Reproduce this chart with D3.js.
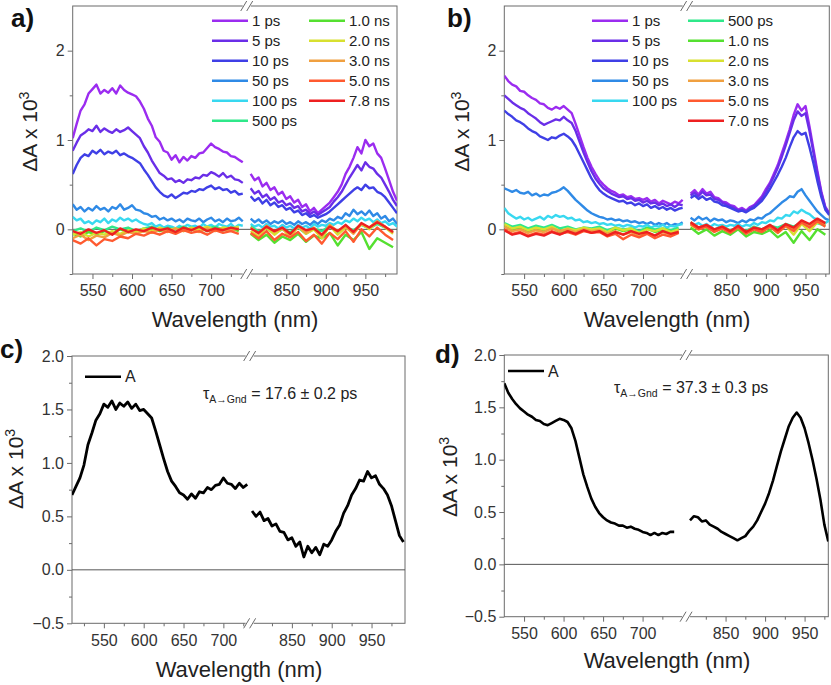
<!DOCTYPE html>
<html>
<head>
<meta charset="utf-8">
<script src="https://cdn.jsdelivr.net/npm/d3@7"></script>
<style>
body { margin: 0; background: #fff; }
text { font-family: "Liberation Sans", Arial, Helvetica, sans-serif; }
</style>
</head>
<body>
<script>
var W = 831, H = 685;

// wavelength grids (nm), visible part and NIR part of each panel
var aFineVis = d3.range(525, 741, 5), aFineNir = d3.range(805, 991, 5);
var aCoarseVis = d3.range(525, 736, 10), aCoarseNir = d3.range(805, 986, 10);
var bFineVis = d3.range(525, 751, 5), bFineNir = d3.range(805, 981, 5);
var bCoarseVis = d3.range(525, 746, 10), bCoarseNir = d3.range(805, 976, 10);
var cVis = d3.range(510, 731, 5), cNir = d3.range(800, 991, 5);
var dVis = d3.range(525, 741, 5), dNir = d3.range(805, 981, 5);

var labelsA = ["1 ps", "5 ps", "10 ps", "50 ps", "100 ps", "500 ps", "1.0 ns", "2.0 ns", "3.0 ns", "5.0 ns", "7.8 ns"];
var labelsB = ["1 ps", "5 ps", "10 ps", "50 ps", "100 ps", "500 ps", "1.0 ns", "2.0 ns", "3.0 ns", "5.0 ns", "7.0 ns"];
var colors = ["#9b2cf0", "#6a2ee8", "#3f3fe6", "#2f8ae6", "#38d8f0", "#2fe88a", "#55e030", "#d8e030", "#f0a040", "#ff5a30", "#ee2020"];

var xMajor = [550, 600, 650, 700, 850, 900, 950];

// ---- panel a, dA x 10^3 ----
var a1psVis = [1.02,1.18,1.33,1.40,1.52,1.57,1.62,1.52,1.56,1.53,1.58,1.52,1.61,1.56,1.53,1.51,1.49,1.43,1.35,1.24,1.16,1.03,0.98,0.88,0.86,0.78,0.83,0.75,0.81,0.77,0.82,0.80,0.85,0.86,0.91,0.96,0.92,0.90,0.87,0.86,0.82,0.81,0.78,0.75];
var a1psNir = [0.62,0.55,0.58,0.48,0.52,0.44,0.47,0.39,0.42,0.34,0.37,0.30,0.33,0.25,0.28,0.20,0.24,0.18,0.22,0.26,0.30,0.36,0.42,0.50,0.62,0.70,0.80,0.92,0.85,1.00,0.93,0.96,0.85,0.80,0.68,0.55,0.42,0.32];
var a5psVis = [0.88,0.97,1.05,1.08,1.12,1.10,1.16,1.09,1.13,1.10,1.08,1.12,1.09,1.11,1.14,1.10,1.06,1.02,0.93,0.86,0.77,0.70,0.63,0.60,0.56,0.57,0.53,0.55,0.52,0.56,0.55,0.58,0.57,0.61,0.60,0.64,0.62,0.59,0.63,0.58,0.60,0.56,0.55,0.52];
var a5psNir = [0.46,0.40,0.43,0.36,0.39,0.33,0.36,0.30,0.32,0.27,0.29,0.24,0.26,0.20,0.22,0.17,0.20,0.16,0.19,0.22,0.25,0.31,0.36,0.42,0.50,0.58,0.65,0.72,0.66,0.75,0.70,0.68,0.62,0.58,0.50,0.42,0.33,0.26];
var a10psVis = [0.62,0.72,0.80,0.84,0.82,0.88,0.85,0.89,0.84,0.87,0.85,0.88,0.83,0.85,0.82,0.80,0.77,0.74,0.67,0.61,0.54,0.47,0.42,0.38,0.36,0.39,0.35,0.38,0.41,0.40,0.43,0.42,0.45,0.44,0.47,0.49,0.45,0.47,0.44,0.45,0.41,0.43,0.39,0.40];
var a10psNir = [0.37,0.32,0.35,0.29,0.33,0.27,0.30,0.25,0.27,0.22,0.24,0.19,0.21,0.16,0.18,0.14,0.16,0.13,0.15,0.17,0.20,0.24,0.28,0.32,0.36,0.40,0.44,0.47,0.44,0.50,0.46,0.47,0.42,0.40,0.36,0.30,0.24,0.18];
var a50psVis = [0.28,0.22,0.25,0.20,0.24,0.21,0.26,0.22,0.24,0.20,0.25,0.23,0.28,0.22,0.24,0.27,0.22,0.21,0.18,0.17,0.14,0.15,0.11,0.13,0.10,0.12,0.09,0.11,0.08,0.12,0.10,0.09,0.12,0.08,0.11,0.13,0.09,0.11,0.08,0.12,0.09,0.10,0.13,0.09];
var a50psNir = [0.12,0.08,0.11,0.07,0.10,0.06,0.09,0.07,0.10,0.06,0.08,0.05,0.09,0.06,0.08,0.05,0.09,0.06,0.10,0.08,0.12,0.10,0.14,0.12,0.18,0.15,0.22,0.17,0.20,0.16,0.21,0.15,0.18,0.12,0.15,0.09,0.12,0.06];
var a100psVis = [0.14,0.10,0.12,0.07,0.09,0.06,0.10,0.08,0.12,0.07,0.11,0.09,0.13,0.10,0.12,0.09,0.11,0.08,0.06,0.05,0.07,0.03,0.05,0.02,0.04,0.03,0.01,0.04,0.02,0.05,0.03,0.04,0.02,0.06,0.03,0.05,0.02,0.06,0.04,0.03,0.06,0.02,0.05,0.04];
var a100psNir = [0.06,0.03,0.05,0.02,0.06,0.03,0.04,0.01,0.05,0.02,0.04,0.01,0.05,0.02,0.04,0.01,0.06,0.03,0.05,0.04,0.07,0.05,0.08,0.06,0.10,0.08,0.12,0.09,0.13,0.10,0.12,0.08,0.11,0.07,0.09,0.05,0.07,0.03];
var a500psVis = [-0.02,0.01,-0.03,0.02,-0.01,0.03,0.00,0.02,-0.02,0.01,0.03,-0.01,0.02,0.00,0.03,-0.01,0.02,0.01,0.03,0.00,0.02,0.01];
var a500psNir = [0.03,-0.02,0.01,-0.04,0.00,-0.03,0.02,-0.05,0.01,-0.02,0.04,-0.03,0.02,-0.01,0.05,0.01,0.06,0.02,-0.03];
var a1nsVis = [-0.05,-0.08,-0.03,-0.06,-0.02,-0.04,0.00,-0.03,-0.01,-0.02,0.01,-0.02,0.00,-0.03,0.01,-0.01,0.02,-0.02,0.00,-0.01,0.01,-0.02];
var a1nsNir = [-0.05,-0.12,-0.06,-0.15,-0.08,-0.12,-0.05,-0.14,-0.07,-0.10,-0.04,-0.18,-0.06,-0.12,-0.03,-0.22,-0.10,-0.15,-0.20];
var a2nsVis = [-0.06,-0.03,-0.08,-0.04,-0.06,-0.02,-0.05,-0.01,-0.03,0.01,-0.02,0.02,-0.01,0.01,-0.02,0.02,0.00,0.03,-0.01,0.02,0.01,0.03];
var a2nsNir = [-0.02,-0.08,0.02,-0.06,0.01,-0.09,0.03,-0.05,0.00,-0.10,0.04,-0.06,0.02,-0.04,0.06,0.00,0.08,0.02,-0.05];
var a3nsVis = [-0.10,-0.06,-0.12,-0.07,-0.09,-0.04,-0.07,-0.03,-0.05,-0.02,-0.04,0.00,-0.03,0.01,-0.02,0.00,-0.03,0.01,-0.02,0.00,-0.01,0.01];
var a3nsNir = [0.02,-0.05,0.04,-0.03,0.01,-0.06,0.03,-0.04,0.02,-0.08,0.05,-0.02,0.03,-0.05,0.06,0.02,0.09,0.03,-0.04];
var a5nsVis = [-0.12,-0.16,-0.10,-0.18,-0.11,-0.13,-0.08,-0.10,-0.05,-0.07,-0.03,-0.06,-0.02,-0.05,-0.01,-0.04,-0.02,-0.06,-0.01,-0.04,-0.02,-0.05];
var a5nsNir = [-0.04,-0.10,-0.02,-0.12,-0.05,-0.09,-0.03,-0.13,-0.06,-0.16,-0.04,-0.11,-0.02,-0.14,0.00,-0.08,0.02,-0.06,-0.12];
var a78nsVis = [-0.02,-0.05,0.00,-0.04,-0.01,-0.06,0.01,-0.03,0.00,-0.02,0.02,-0.01,0.01,-0.03,0.02,-0.01,0.03,-0.02,0.01,-0.01,0.02,0.00];
var a78nsNir = [0.01,-0.04,0.03,-0.02,0.02,-0.05,0.04,-0.01,0.01,-0.06,0.03,-0.02,0.05,-0.03,0.07,0.02,0.08,0.03,-0.03];

// ---- panel b ----
var b1psVis = [1.72,1.66,1.62,1.60,1.55,1.54,1.50,1.47,1.45,1.41,1.40,1.36,1.34,1.37,1.35,1.38,1.34,1.30,1.18,1.05,0.92,0.80,0.70,0.62,0.55,0.50,0.46,0.43,0.41,0.38,0.39,0.36,0.37,0.34,0.35,0.33,0.35,0.31,0.33,0.29,0.32,0.30,0.28,0.31,0.29,0.33];
var b1psNir = [0.40,0.44,0.39,0.45,0.40,0.42,0.36,0.35,0.31,0.30,0.27,0.26,0.22,0.24,0.21,0.25,0.27,0.32,0.37,0.45,0.52,0.62,0.72,0.85,0.98,1.12,1.28,1.40,1.33,1.38,1.15,0.90,0.65,0.42,0.25,0.18];
var b5psVis = [1.50,1.46,1.42,1.39,1.36,1.34,1.30,1.27,1.24,1.20,1.17,1.19,1.21,1.23,1.22,1.26,1.22,1.19,1.10,0.98,0.86,0.75,0.65,0.57,0.51,0.46,0.43,0.40,0.38,0.36,0.37,0.34,0.35,0.32,0.33,0.30,0.32,0.29,0.30,0.27,0.29,0.26,0.28,0.25,0.28,0.27];
var b5psNir = [0.38,0.41,0.37,0.42,0.38,0.39,0.34,0.33,0.30,0.28,0.26,0.24,0.21,0.22,0.20,0.23,0.26,0.30,0.35,0.42,0.50,0.59,0.69,0.81,0.94,1.08,1.22,1.32,1.27,1.30,1.10,0.86,0.62,0.40,0.24,0.17];
var b10psVis = [1.33,1.29,1.26,1.22,1.20,1.17,1.13,1.10,1.08,1.04,1.02,1.00,1.03,1.02,1.05,1.07,1.04,1.00,0.93,0.84,0.75,0.66,0.57,0.50,0.44,0.40,0.37,0.35,0.33,0.31,0.32,0.29,0.30,0.27,0.29,0.26,0.28,0.24,0.26,0.23,0.25,0.22,0.24,0.21,0.23,0.24];
var b10psNir = [0.35,0.38,0.34,0.37,0.33,0.35,0.31,0.30,0.27,0.26,0.24,0.22,0.20,0.21,0.19,0.22,0.24,0.28,0.32,0.38,0.45,0.53,0.61,0.70,0.80,0.92,1.03,1.10,1.06,1.08,0.92,0.74,0.54,0.36,0.22,0.16];
var b50psVis = [0.46,0.44,0.42,0.44,0.41,0.40,0.42,0.38,0.40,0.37,0.39,0.38,0.41,0.42,0.44,0.47,0.43,0.38,0.33,0.29,0.25,0.21,0.18,0.16,0.14,0.13,0.11,0.12,0.10,0.11,0.09,0.10,0.08,0.09,0.07,0.08,0.06,0.08,0.05,0.07,0.05,0.07,0.04,0.06,0.05,0.08];
var b50psNir = [0.13,0.10,0.14,0.11,0.13,0.09,0.12,0.10,0.11,0.08,0.10,0.09,0.07,0.10,0.08,0.11,0.10,0.13,0.12,0.16,0.18,0.22,0.26,0.30,0.33,0.37,0.36,0.42,0.45,0.38,0.32,0.26,0.20,0.16,0.12,0.10];
var b100psVis = [0.24,0.18,0.15,0.12,0.14,0.11,0.13,0.10,0.12,0.14,0.11,0.15,0.13,0.16,0.14,0.15,0.12,0.13,0.10,0.11,0.08,0.09,0.07,0.08,0.06,0.07,0.05,0.06,0.04,0.05,0.03,0.05,0.04,0.02,0.04,0.03,0.05,0.02,0.04,0.03,0.05,0.02,0.04,0.03,0.05,0.06];
var b100psNir = [0.08,0.05,0.07,0.04,0.06,0.03,0.06,0.04,0.05,0.03,0.05,0.04,0.06,0.03,0.05,0.04,0.07,0.05,0.08,0.07,0.10,0.09,0.13,0.12,0.16,0.15,0.20,0.18,0.22,0.19,0.17,0.13,0.11,0.09,0.07,0.10];
var b500psVis = [0.07,0.03,0.05,0.01,0.04,0.02,0.05,0.01,0.03,0.00,0.02,0.01,0.03,-0.01,0.02,0.00,0.01,-0.02,0.02,0.00,0.01,-0.01,0.02];
var b500psNir = [0.06,0.02,0.04,0.00,0.03,-0.01,0.02,-0.02,0.03,0.00,0.04,0.02,0.06,0.03,0.08,0.05,0.07,0.04];
var b1nsVis = [0.04,0.00,0.02,-0.02,0.01,-0.01,0.02,-0.03,0.00,-0.02,0.01,-0.01,0.00,-0.04,0.01,-0.02,0.00,-0.05,0.01,-0.03,0.00,-0.02,-0.04];
var b1nsNir = [0.02,-0.05,0.00,-0.07,-0.02,-0.06,0.00,-0.08,-0.03,-0.05,-0.01,-0.09,-0.03,-0.15,-0.02,-0.12,0.00,-0.06];
var b2nsVis = [0.06,0.01,0.03,-0.01,0.02,0.00,0.03,-0.02,0.01,-0.01,0.02,0.00,0.01,-0.03,0.02,-0.01,0.01,-0.04,0.00,-0.02,0.01,-0.03,0.00];
var b2nsNir = [0.05,0.00,0.03,-0.02,0.02,-0.03,0.03,-0.04,0.01,-0.02,0.03,-0.04,0.04,-0.06,0.06,-0.02,0.08,0.04];
var b3nsVis = [0.03,-0.02,0.00,-0.04,-0.01,-0.03,0.01,-0.02,0.00,-0.03,0.00,-0.02,-0.01,-0.05,-0.02,-0.06,-0.03,-0.08,-0.04,-0.07,-0.03,-0.06,-0.02];
var b3nsNir = [0.08,0.02,0.05,-0.01,0.03,-0.02,0.02,-0.03,0.02,-0.01,0.04,-0.02,0.05,0.00,0.07,0.03,0.10,0.05];
var b5nsVis = [0.00,-0.05,-0.03,-0.07,-0.04,-0.06,-0.02,-0.05,-0.03,-0.06,-0.02,-0.04,-0.03,-0.08,-0.05,-0.11,-0.06,-0.09,-0.05,-0.10,-0.06,-0.08,-0.04];
var b5nsNir = [0.06,0.00,0.03,-0.03,0.01,-0.04,0.02,-0.05,0.00,-0.03,0.03,-0.04,0.04,-0.02,0.08,0.02,0.09,0.03];
var b7nsVis = [-0.01,-0.06,-0.04,-0.08,-0.05,-0.07,-0.03,-0.06,-0.02,-0.05,-0.01,-0.04,-0.02,-0.07,-0.03,-0.06,-0.02,-0.05,-0.03,-0.07,-0.02,-0.05,-0.03];
var b7nsNir = [0.08,0.02,0.05,0.00,0.03,-0.02,0.04,-0.03,0.02,0.00,0.05,-0.01,0.06,0.02,0.10,0.06,0.12,0.07];

// ---- panels c and d: species A spectra ----
var cAVis = [0.70,0.78,0.86,0.98,1.17,1.28,1.40,1.46,1.55,1.52,1.58,1.50,1.56,1.53,1.57,1.51,1.55,1.49,1.50,1.46,1.42,1.30,1.17,1.04,0.92,0.83,0.78,0.72,0.70,0.66,0.71,0.67,0.73,0.72,0.77,0.75,0.79,0.80,0.86,0.81,0.80,0.76,0.81,0.77,0.80];
var cANir = [0.55,0.50,0.54,0.46,0.48,0.41,0.43,0.36,0.35,0.28,0.30,0.22,0.26,0.12,0.22,0.16,0.21,0.14,0.24,0.22,0.28,0.36,0.42,0.53,0.60,0.70,0.76,0.84,0.83,0.92,0.86,0.88,0.80,0.76,0.70,0.60,0.46,0.32,0.26];
var dAVis = [1.73,1.64,1.58,1.53,1.49,1.46,1.43,1.41,1.38,1.37,1.34,1.33,1.35,1.37,1.39,1.38,1.36,1.30,1.18,1.02,0.86,0.74,0.63,0.55,0.49,0.45,0.42,0.40,0.39,0.37,0.37,0.35,0.36,0.34,0.33,0.31,0.30,0.28,0.30,0.28,0.30,0.29,0.31,0.31];
var dANir = [0.42,0.46,0.45,0.41,0.42,0.38,0.36,0.34,0.31,0.29,0.27,0.25,0.23,0.25,0.27,0.32,0.36,0.42,0.50,0.58,0.68,0.80,0.94,1.08,1.20,1.32,1.40,1.45,1.40,1.30,1.16,1.00,0.82,0.62,0.38,0.22];

var svg = d3.select("body").append("svg")
    .attr("width", W)
    .attr("height", H);

function mk(label, color, wv, v, wn, n) {
    return { label: label, color: color, vis: wv.map(function(w, i) { return [w, v[i]]; }).filter(function(d) { return d[1] != null; }),
             nir: wn.map(function(w, i) { return [w, n[i]]; }).filter(function(d) { return d[1] != null; }) };
}

var seriesA = [
    mk(labelsA[0], colors[0], aFineVis, a1psVis, aFineNir, a1psNir),
    mk(labelsA[1], colors[1], aFineVis, a5psVis, aFineNir, a5psNir),
    mk(labelsA[2], colors[2], aFineVis, a10psVis, aFineNir, a10psNir),
    mk(labelsA[3], colors[3], aFineVis, a50psVis, aFineNir, a50psNir),
    mk(labelsA[4], colors[4], aFineVis, a100psVis, aFineNir, a100psNir),
    mk(labelsA[5], colors[5], aCoarseVis, a500psVis, aCoarseNir, a500psNir),
    mk(labelsA[6], colors[6], aCoarseVis, a1nsVis, aCoarseNir, a1nsNir),
    mk(labelsA[7], colors[7], aCoarseVis, a2nsVis, aCoarseNir, a2nsNir),
    mk(labelsA[8], colors[8], aCoarseVis, a3nsVis, aCoarseNir, a3nsNir),
    mk(labelsA[9], colors[9], aCoarseVis, a5nsVis, aCoarseNir, a5nsNir),
    mk(labelsA[10], colors[10], aCoarseVis, a78nsVis, aCoarseNir, a78nsNir)
];
var seriesB = [
    mk(labelsB[0], colors[0], bFineVis, b1psVis, bFineNir, b1psNir),
    mk(labelsB[1], colors[1], bFineVis, b5psVis, bFineNir, b5psNir),
    mk(labelsB[2], colors[2], bFineVis, b10psVis, bFineNir, b10psNir),
    mk(labelsB[3], colors[3], bFineVis, b50psVis, bFineNir, b50psNir),
    mk(labelsB[4], colors[4], bFineVis, b100psVis, bFineNir, b100psNir),
    mk(labelsB[5], colors[5], bCoarseVis, b500psVis, bCoarseNir, b500psNir),
    mk(labelsB[6], colors[6], bCoarseVis, b1nsVis, bCoarseNir, b1nsNir),
    mk(labelsB[7], colors[7], bCoarseVis, b2nsVis, bCoarseNir, b2nsNir),
    mk(labelsB[8], colors[8], bCoarseVis, b3nsVis, bCoarseNir, b3nsNir),
    mk(labelsB[9], colors[9], bCoarseVis, b5nsVis, bCoarseNir, b5nsNir),
    mk(labelsB[10], colors[10], bCoarseVis, b7nsVis, bCoarseNir, b7nsNir)
];
var seriesC = [mk("A", "#000", cVis, cAVis, cNir, cANir)];
var seriesD = [mk("A", "#000", dVis, dAVis, dNir, dANir)];

var fmtInt = d3.format("d"), fmt1 = d3.format(".1f");

var panels = [
    { tag: "a)", tagX: 11, tagY: 27, left: 72.7, right: 397, top: 6, bottom: 274, seg: [525, 745, 800, 990],
      yDom: [-0.5, 2.5], yMajor: [0, 1, 2], yMinor: [-0.5, 0.5, 1.5], yFmt: fmtInt,
      xMinor: [575, 625, 675, 725, 825, 875, 925, 975],
      ytX: 37, ytY: 131.7, xtX: 235, xtY: 327, series: seriesA, width: 2.4,
      legend: { cols: [212, 309], split: 6, y0: 20.7, dy: 20 } },
    { tag: "b)", tagX: 447, tagY: 27, left: 504.3, right: 829.3, top: 6, bottom: 274, seg: [525, 755, 800, 980],
      yDom: [-0.5, 2.5], yMajor: [0, 1, 2], yMinor: [-0.5, 0.5, 1.5], yFmt: fmtInt,
      xMinor: [575, 625, 675, 725, 825, 875, 925, 975],
      ytX: 469, ytY: 131.7, xtX: 667, xtY: 327, series: seriesB, width: 2.4,
      legend: { cols: [592, 688], split: 5, y0: 20.7, dy: 20 } },
    { tag: "c)", tagX: 0, tagY: 358, left: 72, right: 405, top: 356, bottom: 623.3, seg: [510, 733, 797, 992],
      yDom: [-0.5, 2], yMajor: [-0.5, 0, 0.5, 1, 1.5, 2], yMinor: [-0.25, 0.25, 0.75, 1.25, 1.75], yFmt: fmt1,
      xMinor: [525, 575, 625, 675, 725, 825, 875, 925, 975],
      ytX: 23, ytY: 469, xtX: 239, xtY: 677, series: seriesC, width: 2.8,
      legend: { cols: [85], split: 1, y0: 376.7, dy: 20 },
      tau: { x: 203, y: 399, text: " = 17.6 \u00b1 0.2 ps" } },
    { tag: "d)", tagX: 435, tagY: 363, left: 504.3, right: 828.3, top: 355, bottom: 616.7, seg: [525, 755, 800, 980],
      yDom: [-0.5, 2], yMajor: [-0.5, 0, 0.5, 1, 1.5, 2], yMinor: [-0.25, 0.25, 0.75, 1.25, 1.75], yFmt: fmt1,
      xMinor: [575, 625, 675, 725, 825, 875, 925, 975],
      ytX: 457, ytY: 477, xtX: 667, xtY: 668, series: seriesD, width: 2.6,
      legend: { cols: [508], split: 1, y0: 371, dy: 20 },
      tau: { x: 614, y: 392.5, text: " = 37.3 \u00b1 0.3 ps" } }
];

var axisColor = "#6b6b6b", labelColor = "#333";

panels.forEach(function(p, pi) {
    var g = svg.append("g");
    var w = p.right - p.left;
    var s1 = p.seg[1] - p.seg[0], s2 = p.seg[3] - p.seg[2];
    var bx = p.left + w * s1 / (s1 + s2);

    var x = d3.scaleLinear().domain(p.seg).range([p.left, bx, bx, p.right]);
    var y = d3.scaleLinear().domain(p.yDom).range([p.bottom, p.top]);

    // axes
    var gx = g.append("g").attr("transform", "translate(0," + p.bottom + ")")
        .call(d3.axisBottom(x).tickValues(xMajor).tickSize(5).tickSizeOuter(0).tickPadding(6).tickFormat(fmtInt));
    var gxm = g.append("g").attr("transform", "translate(0," + p.bottom + ")")
        .call(d3.axisBottom(x).tickValues(p.xMinor).tickSize(3).tickSizeOuter(0).tickFormat(""));
    var gy = g.append("g").attr("transform", "translate(" + p.left + ",0)")
        .call(d3.axisLeft(y).tickValues(p.yMajor).tickSize(5).tickSizeOuter(0).tickPadding(3).tickFormat(p.yFmt));
    var gym = g.append("g").attr("transform", "translate(" + p.left + ",0)")
        .call(d3.axisLeft(y).tickValues(p.yMinor).tickSize(3).tickSizeOuter(0).tickFormat(""));
    [gx, gxm, gy, gym].forEach(function(a) {
        a.select(".domain").remove();
        a.selectAll("line").attr("stroke", axisColor);
        a.selectAll("text").attr("fill", labelColor).style("font-size", "16px")
            .style("font-family", "'Liberation Sans', Arial, sans-serif");
    });

    // frame
    g.append("rect").attr("x", p.left).attr("y", p.top)
        .attr("width", w).attr("height", p.bottom - p.top)
        .attr("fill", "none").attr("stroke", axisColor).attr("stroke-width", 1);

    // zero line
    g.append("line").attr("x1", p.left).attr("x2", p.right)
        .attr("y1", y(0)).attr("y2", y(0)).attr("stroke", "#555").attr("stroke-width", 1);

    // data
    var clipId = "clip" + pi;
    g.append("clipPath").attr("id", clipId).append("rect")
        .attr("x", p.left).attr("y", p.top).attr("width", w).attr("height", p.bottom - p.top);
    var line = d3.line().x(function(d) { return x(d[0]); }).y(function(d) { return y(d[1]); });
    var lines = g.append("g").attr("clip-path", "url(#" + clipId + ")");
    p.series.forEach(function(s) {
        [s.vis, s.nir].forEach(function(part) {
            lines.append("path").datum(part)
                .attr("d", line)
                .attr("fill", "none")
                .attr("stroke", s.color)
                .attr("stroke-width", p.width)
                .attr("stroke-linejoin", "round");
        });
    });

    // axis break marks
    [p.top, p.bottom].forEach(function(yy) {
        g.append("rect").attr("x", bx - 4).attr("y", yy - 2).attr("width", 8).attr("height", 4).attr("fill", "#fff");
        [-3, 3].forEach(function(off) {
            g.append("line").attr("x1", bx + off - 3).attr("y1", yy + 5)
                .attr("x2", bx + off + 3).attr("y2", yy - 5)
                .attr("stroke", axisColor).attr("stroke-width", 1);
        });
    });

    // legend
    var lg = g.append("g");
    p.series.forEach(function(s, i) {
        var col = i < p.legend.split ? 0 : 1;
        var row = col === 0 ? i : i - p.legend.split;
        var lx = p.legend.cols[col], ly = p.legend.y0 + row * p.legend.dy;
        lg.append("line").attr("x1", lx).attr("x2", lx + 36).attr("y1", ly).attr("y2", ly)
            .attr("stroke", s.color).attr("stroke-width", 2.5);
        lg.append("text").attr("x", lx + 40).attr("y", ly).attr("dy", "0.36em")
            .style("font-size", p.legend.split === 1 ? "16px" : "15px").attr("fill", "#222").text(s.label);
    });

    // lifetime note
    if (p.tau) {
        var t = g.append("text").attr("x", p.tau.x).attr("y", p.tau.y).attr("fill", "#222");
        t.append("tspan").style("font-size", "16px").text("\u03c4");
        t.append("tspan").style("font-size", "10.5px").attr("dy", 4).text("A\u2192Gnd");
        t.append("tspan").style("font-size", "16px").attr("dy", -4).text(p.tau.text);
    }

    // axis titles
    g.append("text").attr("x", p.xtX).attr("y", p.xtY).attr("text-anchor", "middle")
        .style("font-size", "22px").attr("fill", "#222").text("Wavelength (nm)");
    var yt = g.append("text").attr("transform", "translate(" + p.ytX + "," + p.ytY + ") rotate(-90)")
        .attr("text-anchor", "middle").style("font-size", "21px").attr("fill", "#222");
    yt.append("tspan").text("\u0394A x 10");
    yt.append("tspan").attr("dy", "-0.55em").style("font-size", "14px").text("3");

    // panel tag
    g.append("text").attr("x", p.tagX).attr("y", p.tagY)
        .style("font-size", "26px").style("font-weight", "bold").attr("fill", "#111").text(p.tag);
});
</script>
</body>
</html>
